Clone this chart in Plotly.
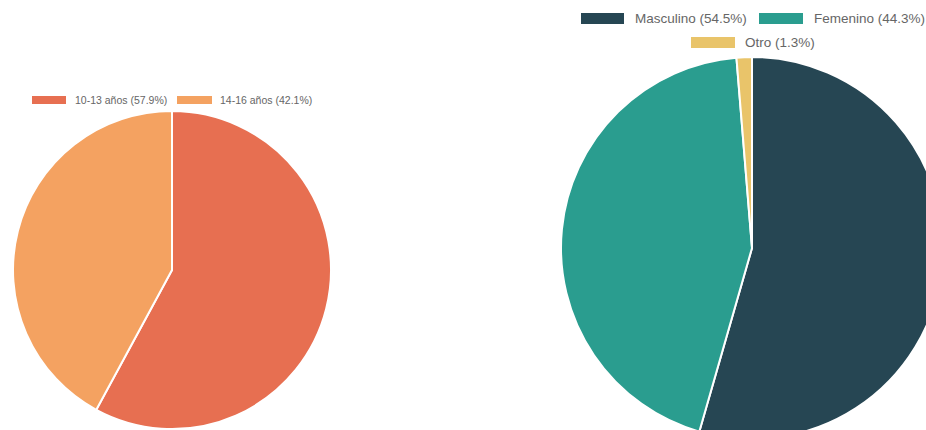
import plotly.graph_objects as go

# Age groups
edad_labels = ["10-13 años", "14-16 años"]
edad_values = [57.9, 42.1]
edad_colors = ["#E76F51", "#F4A261"]

# Gender
genero_labels = ["Masculino", "Femenino", "Otro"]
genero_values = [54.5, 44.3, 1.3]
genero_colors = ["#264653", "#2A9D8F", "#E9C46A"]

W, H = 950, 440
FONT = "Liberation Sans, Arial, Helvetica, sans-serif"
TEXT_COLOR = "#666666"


def px_x(x):
    return x / W


def px_y(y):
    return 1 - y / H


def pie(labels, values, colors, cx, cy, r):
    return go.Pie(
        labels=labels,
        values=values,
        sort=False,
        direction="clockwise",
        rotation=0,
        textinfo="none",
        hoverinfo="label+percent",
        marker=dict(colors=colors, line=dict(color="white", width=2)),
        domain=dict(x=[px_x(cx - r), px_x(cx + r)], y=[px_y(cy + r), px_y(cy - r)]),
        showlegend=False,
    )


fig = go.Figure()
fig.add_trace(pie(edad_labels, edad_values, edad_colors, 172, 270, 159))
fig.add_trace(pie(genero_labels, genero_values, genero_colors, 752, 248, 191))

shapes = []
annotations = []


def legend_item(label, value, color, x0, x1, y0, y1, tx, size):
    shapes.append(dict(
        type="rect", xref="paper", yref="paper",
        x0=px_x(x0), x1=px_x(x1), y0=px_y(y1), y1=px_y(y0),
        fillcolor=color, line=dict(width=0), layer="above",
    ))
    annotations.append(dict(
        text=f"{label} ({value:.1f}%)", xref="paper", yref="paper",
        x=px_x(tx), y=px_y((y0 + y1) / 2), xanchor="left", yanchor="middle",
        showarrow=False, font=dict(family=FONT, size=size, color=TEXT_COLOR),
    ))


# Age legend (single row)
edad_boxes = [(32, 66, 73), (177, 212, 218)]
for lab, val, col, (bx0, bx1, tx) in zip(edad_labels, edad_values, edad_colors, edad_boxes):
    legend_item(lab, val, col, bx0, bx1, 96, 104, tx, 10.5)

# Gender legend (two rows, centred)
genero_boxes = [(581, 624, 13, 24, 633), (759, 803, 13, 24, 812), (691, 735, 37, 48, 743)]
for lab, val, col, (bx0, bx1, by0, by1, tx) in zip(genero_labels, genero_values, genero_colors, genero_boxes):
    legend_item(lab, val, col, bx0, bx1, by0, by1, tx, 13.5)

fig.update_layout(
    width=W,
    height=H,
    margin=dict(l=0, r=0, t=0, b=0),
    paper_bgcolor="white",
    plot_bgcolor="white",
    shapes=shapes,
    annotations=annotations,
    font=dict(family=FONT, color=TEXT_COLOR),
)

fig.write_html(
    "out.html",
    post_script="document.body.style.margin='0';document.body.style.overflow='hidden';",
)
